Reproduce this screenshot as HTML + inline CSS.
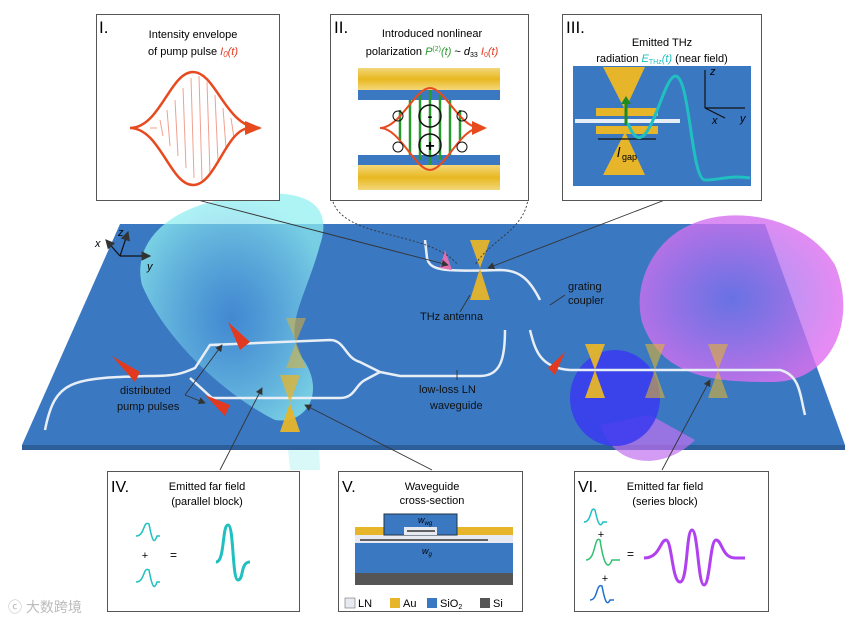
<!DOCTYPE html>
<html><head><meta charset="utf-8"><style>
html,body{margin:0;padding:0;background:#fff;}
svg{display:block;font-family:"Liberation Sans",sans-serif;}
</style></head><body>
<svg width="862" height="625" viewBox="0 0 862 625" xmlns="http://www.w3.org/2000/svg">
<defs>
<linearGradient id="gold" x1="0" y1="0" x2="0" y2="1"><stop offset="0" stop-color="#f3d77a"/><stop offset="0.5" stop-color="#e8b820"/><stop offset="1" stop-color="#f3d77a"/></linearGradient>
<radialGradient id="cyan" cx="0.5" cy="0.55" r="0.55"><stop offset="0" stop-color="#4a98e0" stop-opacity="0.6"/><stop offset="1" stop-color="#8ff0f0" stop-opacity="0.85"/></radialGradient>
<radialGradient id="purp" cx="0.45" cy="0.5" r="0.55"><stop offset="0" stop-color="#7a70f0" stop-opacity="0.8"/><stop offset="1" stop-color="#e070f0" stop-opacity="0.9"/></radialGradient>
<marker id="ah" markerWidth="8" markerHeight="8" refX="7" refY="4" orient="auto"><path d="M0,0 L8,4 L0,8 Z" fill="#333"/></marker>
</defs>
<path d="M285,420 L290,470 L320,470 L318,420 Z" fill="#bff5f5" opacity="0.6"/>
<!-- platform -->
<polygon points="120,224 765,224 845,445 22,445" fill="#3a78c2"/>
<polygon points="22,445 845,445 845,450 22,450" fill="#2c5f9a"/>
<!-- cyan lobe -->
<path d="M230,198 C300,185 335,200 320,245 C305,300 280,330 305,362 C325,395 305,425 275,420 C225,395 165,340 142,285 C132,245 165,208 230,198 Z" fill="url(#cyan)" opacity="0.85"/>
<!-- purple lobes -->
<path d="M690,225 C730,205 805,215 835,265 C858,320 832,382 772,382 C720,382 662,380 642,322 C632,282 655,240 690,225 Z" fill="url(#purp)" opacity="0.9"/>
<path d="M600,425 C615,470 665,470 695,440 L650,415 Z" fill="#c070f0" opacity="0.7"/>
<ellipse cx="615" cy="398" rx="45" ry="48" fill="#3a3af0" opacity="0.85"/>
<!-- waveguides -->
<g fill="none" stroke="#e8eef5" stroke-width="2.5">
<path d="M45,430 C55,380 70,378 150,376 C180,376 185,372 195,368 L210,345 L330,340 C345,340 345,358 360,362 L380,372 L400,376 L480,376 C500,376 505,360 505,330"/>
<path d="M190,378 L212,398 L340,398 C355,398 355,385 365,380 L380,372"/>
<path d="M425,240 L427,258 C430,270 440,272 500,270 C520,270 530,280 540,300"/>
<path d="M530,330 C535,350 540,368 570,370 L780,370 C800,375 800,395 805,415"/>
</g>
<!-- gold antennas -->
<g fill="#e6b52a" opacity="0.95">
<polygon points="470,240 490,240 480,268"/><polygon points="470,300 490,300 480,268"/>
<polygon points="286,318 306,318 296,342" opacity="0.55"/><polygon points="286,368 306,368 296,342" opacity="0.55"/>
<polygon points="280,375 300,375 290,403" opacity="0.8"/><polygon points="280,432 300,432 290,403"/>
<polygon points="585,344 605,344 595,370"/><polygon points="585,398 605,398 595,370"/>
<polygon points="645,344 665,344 655,370" opacity="0.6"/><polygon points="645,398 665,398 655,370" opacity="0.6"/>
<polygon points="708,344 728,344 718,370" opacity="0.6"/><polygon points="708,398 728,398 718,370" opacity="0.6"/>
</g>
<!-- red pump pulses -->
<g fill="#e23a20">
<polygon points="112,356 140,372 135,382"/>
<polygon points="228,322 250,342 240,350"/>
<polygon points="205,395 230,405 225,416"/>
<polygon points="565,352 555,375 548,368"/>
<polygon points="445,250 452,270 440,268" fill="#e070b0"/>
</g>
<!-- axes on platform -->
<g stroke="#111" stroke-width="1.2" fill="none">
<path d="M120,256 L106,240" marker-end="url(#ah)"/><path d="M120,256 L128,232" marker-end="url(#ah)"/><path d="M120,256 L150,256" marker-end="url(#ah)"/>
</g>
<text x="95" y="247" font-size="11" font-style="italic">x</text><text x="118" y="236" font-size="11" font-style="italic">z</text><text x="147" y="270" font-size="11" font-style="italic">y</text>
<!-- platform labels -->
<g font-size="11" fill="#111">
<text x="120" y="394">distributed</text><text x="117" y="410">pump pulses</text>
<text x="419" y="393">low-loss LN</text><text x="430" y="409">waveguide</text>
<text x="420" y="320">THz antenna</text>
<text x="568" y="290">grating</text><text x="568" y="304">coupler</text>
</g>
<g stroke="#333" stroke-width="0.9" fill="none">
<path d="M185,395 L222,345" marker-end="url(#ah)"/><path d="M185,395 L205,403" marker-end="url(#ah)"/>
<path d="M457,380 L457,370"/><path d="M460,312 L470,295"/><path d="M565,295 L550,305"/>
<path d="M190,198 L448,265" marker-end="url(#ah)"/>
<path d="M670,198 L488,268" marker-end="url(#ah)"/>
<path d="M220,470 L262,388" marker-end="url(#ah)"/>
<path d="M432,470 L305,405" marker-end="url(#ah)"/>
<path d="M662,470 L710,380" marker-end="url(#ah)"/>
<path d="M332,198 C340,240 430,230 458,265" stroke-dasharray="2,2"/>
<path d="M528,198 C525,230 490,240 475,265" stroke-dasharray="2,2"/>
</g>
<!-- Box I -->
<rect x="96.5" y="14.5" width="183" height="186" fill="#fff" stroke="#555"/>
<text x="99" y="33" font-size="17">I.</text>
<text x="193" y="38" font-size="11" text-anchor="middle">Intensity envelope</text>
<text x="193" y="55" font-size="11" text-anchor="middle">of pump pulse <tspan fill="#e23a20" font-style="italic">I</tspan><tspan fill="#e23a20" font-style="italic" font-size="8" dy="2">0</tspan><tspan fill="#e23a20" font-style="italic" dy="-2">(t)</tspan></text>
<g stroke="#f0a090" stroke-width="1"><path d="M150,128 L157,128 M160,120 L163,136 M167,110 L170,146 M175,100 L178,156 M183,88 L186,168 M191,78 L194,178 M199,76 L202,180 M207,82 L210,174 M215,95 L218,161 M223,108 L226,148 M231,118 L234,138"/></g>
<path d="M130,128 C160,128 170,72 193,72 C216,72 226,128 260,128 M130,128 C160,128 170,185 193,185 C216,185 226,128 250,128" fill="none" stroke="#e84a20" stroke-width="2.5"/>
<polygon points="245,121 262,128 245,135" fill="#e84a20"/>
<!-- Box II -->
<rect x="330.5" y="14.5" width="198" height="186" fill="#fff" stroke="#555"/>
<text x="334" y="33" font-size="17">II.</text>
<text x="432" y="37" font-size="11" text-anchor="middle">Introduced nonlinear</text>
<text x="432" y="55" font-size="11" text-anchor="middle">polarization <tspan fill="#2a9a30" font-style="italic">P</tspan><tspan fill="#2a9a30" font-size="7" dy="-4">(2)</tspan><tspan fill="#2a9a30" font-style="italic" dy="4">(t)</tspan> ~ <tspan font-style="italic">d</tspan><tspan font-size="7" dy="2">33</tspan> <tspan dy="-2" fill="#e23a20" font-style="italic">I</tspan><tspan fill="#e23a20" font-size="7" dy="2">0</tspan><tspan dy="-2" fill="#e23a20" font-style="italic">(t)</tspan></text>
<rect x="358" y="68" width="142" height="22" fill="url(#gold)"/>
<rect x="358" y="90" width="142" height="10" fill="#3a78c2"/>
<rect x="358" y="100" width="142" height="55" fill="#fff"/>
<rect x="358" y="155" width="142" height="10" fill="#3a78c2"/>
<rect x="358" y="165" width="142" height="25" fill="url(#gold)"/>
<g stroke="#2a9a30" stroke-width="2.5"><path d="M400,140 L400,110 M410,155 L410,100 M420,160 L420,95 M430,165 L430,90 M440,160 L440,95 M450,155 L450,100 M460,140 L460,110"/></g>
<path d="M380,128 C400,128 415,88 430,88 C445,88 460,128 480,128 M380,128 C400,128 415,170 430,170 C445,170 460,128 480,128" fill="none" stroke="#e84a20" stroke-width="2"/>
<polygon points="472,121 487,128 472,135" fill="#e84a20"/>
<g fill="none" stroke="#111"><circle cx="430" cy="116" r="11" stroke-width="1.5"/><circle cx="430" cy="145" r="11" stroke-width="1.5"/><circle cx="398" cy="116" r="5"/><circle cx="462" cy="116" r="5"/><circle cx="398" cy="147" r="5"/><circle cx="462" cy="147" r="5"/></g>
<text x="430" y="121" font-size="14" text-anchor="middle" font-weight="bold">-</text><text x="430" y="151" font-size="16" text-anchor="middle" font-weight="bold">+</text>
<!-- Box III -->
<rect x="562.5" y="14.5" width="199" height="186" fill="#fff" stroke="#555"/>
<text x="566" y="33" font-size="17">III.</text>
<text x="662" y="46" font-size="11" text-anchor="middle">Emitted THz</text>
<text x="662" y="62" font-size="11" text-anchor="middle">radiation <tspan fill="#20c0c0" font-style="italic">E</tspan><tspan fill="#20c0c0" font-size="7" dy="2">THz</tspan><tspan fill="#20c0c0" font-style="italic" dy="-2">(t)</tspan> (near field)</text>
<rect x="573" y="66" width="178" height="120" fill="#3a78c2"/>
<polygon points="603,67 645,67 625,110" fill="#e6b52a"/><polygon points="603,175 645,175 625,132" fill="#e6b52a"/>
<rect x="596" y="108" width="62" height="8" fill="#e6b52a"/><rect x="596" y="126" width="62" height="8" fill="#e6b52a"/>
<rect x="575" y="119" width="105" height="4" fill="#e8eef5"/>
<path d="M626,125 L626,102" stroke="#1f8a20" stroke-width="3"/><polygon points="621,104 626,96 631,104" fill="#1f8a20"/>
<path d="M598,139 L656,139" stroke="#111" stroke-width="1.2"/>
<text x="617" y="157" font-size="14" font-style="italic">l</text><text x="622" y="160" font-size="9">gap</text>
<path d="M628,123 C645,170 660,90 672,78 C690,60 690,180 705,180 C720,180 730,175 750,178" fill="none" stroke="#20c0c0" stroke-width="3"/>
<g stroke="#111" stroke-width="1.2"><path d="M705,108 L705,70 M705,108 L745,108 M705,108 L725,118"/></g>
<text x="710" y="75" font-size="11" font-style="italic">z</text><text x="740" y="122" font-size="11" font-style="italic">y</text><text x="712" y="124" font-size="11" font-style="italic">x</text>
<!-- Box IV -->
<rect x="107.5" y="471.5" width="192" height="140" fill="#fff" stroke="#555"/>
<text x="111" y="492" font-size="16">IV.</text>
<text x="207" y="490" font-size="11" text-anchor="middle">Emitted far field</text>
<text x="207" y="505" font-size="11" text-anchor="middle">(parallel block)</text>
<g fill="none" stroke="#20c0c0" stroke-width="1.5"><path d="M136,536 C145,536 143,520 149,524 C152,540 154,545 157,536 L160,536"/><path d="M136,582 C145,582 143,566 149,570 C152,586 154,591 157,582 L160,582"/><path d="M216,562 C225,562 222,525 228,525 C234,525 232,580 238,580 C244,580 240,562 250,562" stroke-width="3"/></g>
<text x="145" y="559" font-size="11" text-anchor="middle">+</text><text x="170" y="559" font-size="12">=</text>
<!-- Box V -->
<rect x="338.5" y="471.5" width="184" height="140" fill="#fff" stroke="#555"/>
<text x="342" y="492" font-size="16">V.</text>
<text x="432" y="490" font-size="11" text-anchor="middle">Waveguide</text>
<text x="432" y="504" font-size="11" text-anchor="middle">cross-section</text>
<rect x="355" y="527" width="158" height="8" fill="#e6b52a"/>
<rect x="355" y="535" width="158" height="8" fill="#e8eaf2"/>
<rect x="355" y="543" width="158" height="30" fill="#3a78c2"/>
<rect x="355" y="573" width="158" height="12" fill="#555"/>
<rect x="384" y="514" width="73" height="21" fill="#3a78c2" stroke="#234"/>
<rect x="404" y="527" width="33" height="8" fill="#e8eaf2"/>
<path d="M407,531 L435,531 M360,540 L488,540" stroke="#111" stroke-width="1.2"/>
<text x="418" y="523" font-size="9" font-style="italic">w<tspan font-size="6" dy="2">wg</tspan></text>
<text x="422" y="554" font-size="9" font-style="italic">w<tspan font-size="6" dy="2">g</tspan></text>
<rect x="345" y="598" width="10" height="10" fill="#e8eaf2" stroke="#555" stroke-width="0.5"/><text x="358" y="607" font-size="11">LN</text>
<rect x="390" y="598" width="10" height="10" fill="#e6b52a"/><text x="403" y="607" font-size="11">Au</text>
<rect x="427" y="598" width="10" height="10" fill="#3a78c2"/><text x="440" y="607" font-size="11">SiO<tspan font-size="7" dy="2">2</tspan></text>
<rect x="480" y="598" width="10" height="10" fill="#555"/><text x="493" y="607" font-size="11">Si</text>
<!-- Box VI -->
<rect x="574.5" y="471.5" width="194" height="140" fill="#fff" stroke="#555"/>
<text x="578" y="492" font-size="16">VI.</text>
<text x="665" y="490" font-size="11" text-anchor="middle">Emitted far field</text>
<text x="665" y="505" font-size="11" text-anchor="middle">(series block)</text>
<g fill="none" stroke-width="1.5"><path d="M584,522 C592,522 590,505 595,510 C598,524 600,528 603,522 L607,522" stroke="#20c0c0"/><path d="M586,560 C596,560 594,535 600,540 C604,566 608,570 612,560 L620,560" stroke="#30c070"/><path d="M590,600 C598,600 596,583 602,586 C605,602 607,606 610,600 L614,600" stroke="#2070d0"/><path d="M644,558 C660,558 660,540 666,540 C672,540 672,582 680,582 C688,582 686,530 692,530 C698,530 698,585 704,585 C710,585 710,540 716,540 C722,540 722,558 735,558 L745,558" stroke="#b040f0" stroke-width="3"/></g>
<text x="601" y="538" font-size="11" text-anchor="middle">+</text><text x="605" y="582" font-size="11" text-anchor="middle">+</text><text x="627" y="558" font-size="12">=</text>
<text x="8" y="612" font-size="14" fill="#bbb" font-family="'Liberation Sans','Noto Sans CJK SC',sans-serif">ⓒ 大数跨境</text>
</svg>
</body></html>
